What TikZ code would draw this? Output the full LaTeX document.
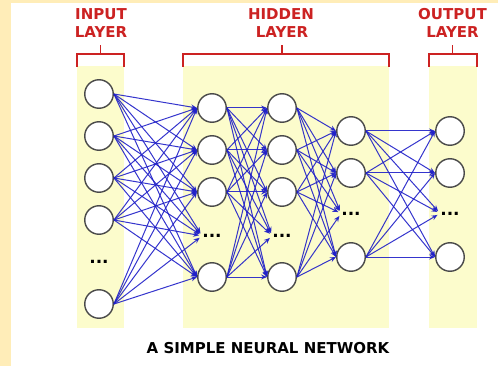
\documentclass[tikz,border=0pt]{standalone}
\usepackage{fontspec}
\setmainfont{DejaVu Sans}
\usetikzlibrary{arrows.meta}
\definecolor{cream}{HTML}{FFEDB8}
\definecolor{band}{HTML}{FCFCCC}
\definecolor{lblred}{HTML}{CC2222}
\definecolor{edgeblue}{HTML}{2020C8}
\definecolor{ringgray}{HTML}{4A4A4A}
\begin{document}
\begin{tikzpicture}[x=1pt,y=-1pt,
  neuron/.style={circle,draw=ringgray,line width=1.4pt,fill=white,minimum size=28.5pt,inner sep=0pt},
  edge/.style={draw=edgeblue,line width=1pt,opacity=0.9,-{Stealth[length=6pt,width=5pt]}},
  dotsnode/.style={inner sep=0pt,anchor=base,font=\fontsize{17}{17}\selectfont\bfseries},
  layerlbl/.style={anchor=base,text=lblred,font=\fontsize{15}{15}\selectfont\bfseries},
  bracket/.style={draw=lblred,line width=1.4pt},
  bandfill/.style={fill=band},
  titlelbl/.style={anchor=base,font=\fontsize{15}{15}\selectfont\bfseries}]
\useasboundingbox (0,0) rectangle (498,366);
\fill[cream] (0,0) rectangle (498,366);
\fill[white] (11,3) rectangle (498,366);
% bands
\fill[bandfill] (77,66) rectangle (124,328);
\fill[bandfill] (183,66) rectangle (389,328);
\fill[bandfill] (429,66) rectangle (477,328);
% brackets
\draw[bracket] (77,67) -- (77,54) -- (124,54) -- (124,67);
\draw[bracket] (100.5,54) -- (100.5,45);
\draw[bracket] (183,67) -- (183,54) -- (389,54) -- (389,67);
\draw[bracket] (282,54) -- (282,45);
\draw[bracket] (429,67) -- (429,54) -- (477,54) -- (477,67);
\draw[bracket] (452.5,54) -- (452.5,45);
% labels
\node[layerlbl] (lin1) at (101,20) {INPUT};
\node[layerlbl] (lin2) at (101,38) {LAYER};
\node[layerlbl] (lhd1) at (281,20) {HIDDEN};
\node[layerlbl] (lhd2) at (282,38) {LAYER};
\node[layerlbl] (lout1) at (452.5,20) {OUTPUT};
\node[layerlbl] (lout2) at (452.5,38) {LAYER};
\node[titlelbl] (title) at (268,353) {A SIMPLE NEURAL NETWORK};
% neurons
\foreach \n/\y in {1/94,2/136,3/178,4/220,5/304}
  \node[neuron] (i\n) at (99,\y) {};
\node[dotsnode] (id) at (99,263.5) {...};
\foreach \n/\y in {1/108,2/150,3/192,4/277}
  \node[neuron] (a\n) at (212,\y) {};
\node[dotsnode] (ad) at (212,237.5) {...};
\foreach \n/\y in {1/108,2/150,3/192,4/277}
  \node[neuron] (b\n) at (282,\y) {};
\node[dotsnode] (bd) at (282,237.5) {...};
\foreach \n/\y in {1/131,2/173,3/257}
  \node[neuron] (c\n) at (351,\y) {};
\node[dotsnode] (cd) at (351,215) {...};
\foreach \n/\y in {1/131,2/173,3/257}
  \node[neuron] (o\n) at (450,\y) {};
\node[dotsnode] (od) at (450,215) {...};
% edges
\foreach \s in {1,...,5}{
  \foreach \t in {1,...,4} \draw[edge] (i\s.east) -- (a\t.west);
  \draw[edge,shorten >=3pt] (i\s.east) -- (ad.west);
}
\foreach \s in {1,...,4}{
  \foreach \t in {1,...,4} \draw[edge] (a\s.east) -- (b\t.west);
  \draw[edge,shorten >=3pt] (a\s.east) -- (bd.west);
}
\foreach \s in {1,...,4}{
  \foreach \t in {1,...,3} \draw[edge] (b\s.east) -- (c\t.west);
  \draw[edge,shorten >=3pt] (b\s.east) -- (cd.west);
}
\foreach \s in {1,...,3}{
  \foreach \t in {1,...,3} \draw[edge] (c\s.east) -- (o\t.west);
  \draw[edge,shorten >=3pt] (c\s.east) -- (od.west);
}
\end{tikzpicture}
\end{document}
